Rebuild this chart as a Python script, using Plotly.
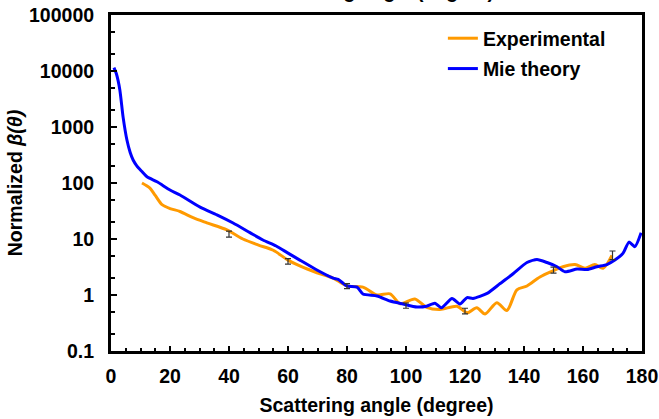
import plotly.graph_objects as go

# Mie theory phase function (normalized)
mie_angle = [1.0, 1.8, 3.0, 4.1, 5.4, 6.5, 7.5, 8.8, 10.5, 12.2, 15.6, 20, 23.4, 30.2,
             35.9, 41.4, 47.1, 51.5, 56, 60, 64, 69.8, 75.3, 77, 80, 83.4, 85.4, 90.2,
             94.6, 99, 103.7, 107, 109.8, 112, 115.6, 118.3, 120.7, 122.7, 127.5, 131.9,
             136.3, 141, 144.4, 147.8, 151.2, 153.9, 158, 161.4, 164.7, 168.1, 170.8,
             173.6, 175.6, 177.6, 179.7]
mie_value = [11500, 9000, 4600, 1500, 585, 350, 257, 200, 160, 129, 105, 75, 61, 37,
             27, 19.3, 13, 9.6, 7.5, 5.6, 4.2, 2.8, 2.0, 1.9, 1.45, 1.38, 1.04, 0.96,
             0.78, 0.69, 0.61, 0.63, 0.71, 0.59, 0.87, 0.69, 0.90, 0.87, 1.07, 1.6,
             2.4, 3.8, 4.3, 3.8, 3.2, 2.6, 2.9, 2.85, 3.2, 3.5, 4.2,
             5.6, 8.8, 7.3, 12.9]

# Measured phase function (normalized)
exp_angle = [10.5, 13.2, 15, 17.3, 20, 23.4, 27.8, 32.5, 39.3, 44.7, 50, 55, 60, 64,
             69.8, 75.3, 80, 85.4, 90.2, 94.6, 98, 103, 107, 111.5, 117.3, 120.7, 124,
             126.8, 130.8, 134.2, 137.6, 141, 145.4, 149.8, 153.2, 157.3, 160.7, 164,
             166.8, 169.8]
exp_value = [100, 81, 60, 41, 35, 31, 24, 19.4, 14.5, 10, 7.8, 6.3, 4.2, 3.3,
             2.5, 2.0, 1.45, 1.38, 1.0, 1.05, 0.7, 0.85, 0.6, 0.55, 0.63, 0.48, 0.59,
             0.46, 0.73, 0.53, 1.24, 1.45, 2.1, 2.7, 3.2, 3.5, 3.0, 3.5,
             3.0, 5.1]

# Measurement uncertainty at selected angles
err_angle = [40, 60, 80, 100, 120, 150, 170]
err_value = [12.3, 4.0, 1.45, 0.65, 0.52, 2.8, 5.2]
err_size = [1.5, 0.45, 0.15, 0.07, 0.06, 0.35, 0.9]

x_ticks = list(range(0, 181, 20))
y_tickvals = [0.1, 1, 10, 100, 1000, 10000, 100000]
y_ticktext = ["0.1", "1", "10", "100", "1000", "10000", "100000"]

FONT = "Liberation Sans, Arial, sans-serif"
FS = 19.5

fig = go.Figure()
fig.add_trace(go.Scatter(
    x=exp_angle, y=exp_value, mode="lines", name="<b>Experimental</b>",
    line=dict(color="#FF9A00", width=3, shape="spline", smoothing=0.8),
    legendgroup="a"))
fig.add_trace(go.Scatter(
    x=mie_angle, y=mie_value, mode="lines", name="<b>Mie theory</b>",
    line=dict(color="#0000FF", width=3, shape="spline", smoothing=0.6),
    legendgroup="b"))
fig.add_trace(go.Scatter(
    x=err_angle, y=err_value, mode="markers", showlegend=False,
    marker=dict(size=1, color="rgba(0,0,0,0)"),
    error_y=dict(type="data", array=err_size, color="#333333", thickness=1.2, width=3)))

fig.update_layout(
    width=659, height=419,
    margin=dict(l=111, r=17, t=15, b=68),
    paper_bgcolor="white", plot_bgcolor="white",
    font=dict(family=FONT, size=FS, color="black"),
    showlegend=True,
    legend=dict(x=0.625, y=0.988, xanchor="left", yanchor="top",
                bgcolor="rgba(0,0,0,0)", font=dict(size=FS, family=FONT),
                tracegroupgap=2, traceorder="grouped"),
    xaxis=dict(
        range=[0, 180], tickvals=x_ticks, ticks="inside", ticklen=5, tickwidth=2,
        tickcolor="black", showline=True, linecolor="black", linewidth=3,
        mirror=True, showgrid=False, zeroline=False, automargin=False,
        tickfont=dict(size=FS, family=FONT, weight="bold"),
        ticklabelstandoff=6,
        minor=dict(dtick=5, ticks="inside", ticklen=3, tickwidth=2, tickcolor="black"),
        title=dict(text="<b>Scattering angle (degree)</b>", standoff=12,
                   font=dict(size=FS, family=FONT)),
    ),
    yaxis=dict(
        type="log", range=[-1, 5], tickvals=y_tickvals, ticktext=y_ticktext,
        ticks="inside", ticklen=6, tickwidth=2, tickcolor="black",
        showline=True, linecolor="black", linewidth=3, mirror=True,
        showgrid=False, zeroline=False, automargin=False,
        tickfont=dict(size=FS, family=FONT, weight="bold"),
        ticklabelstandoff=10,
        minor=dict(ticks="inside", ticklen=4, tickwidth=2, tickcolor="black",
                   showgrid=False),
        title=dict(text="<b>Normalized <i>β(θ)</i></b>", standoff=2,
                   font=dict(size=FS, family=FONT)),
    ),
)

# Secondary heading sitting above the plot box
fig.add_annotation(
    text="<b>Scattering angle (degree)</b>", xref="paper", yref="paper",
    x=0.5, y=1.032, xanchor="center", yanchor="bottom", showarrow=False,
    font=dict(size=FS, family=FONT, color="black"))

fig.write_html("out.html")
